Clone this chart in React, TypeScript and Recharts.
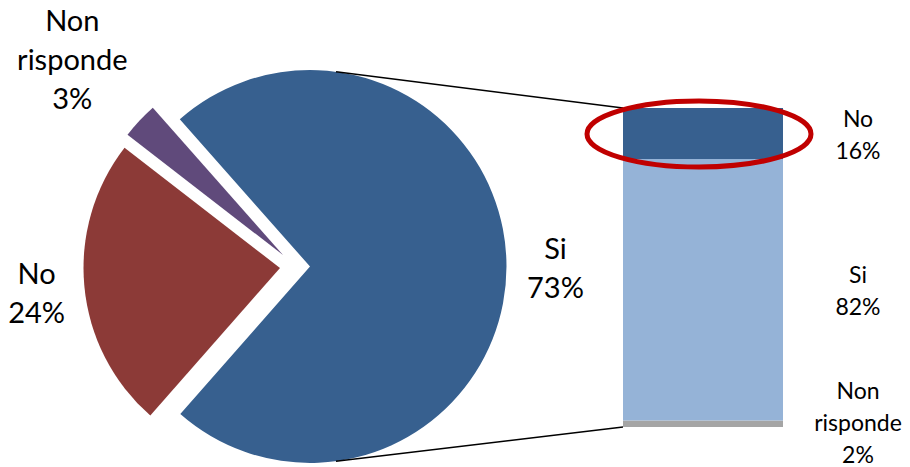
import React from 'react'
import { PieChart, Pie, Cell, BarChart, Bar, XAxis, YAxis, LabelList } from 'recharts'

// main pie
const PIE_NAMES = ['Si', 'No', 'Non risponde']
const PIE_VALUES = [73, 24, 3]
const PIE_COLORS = ['#37608f', '#8c3a37', '#604a7b']

// breakdown of "Si" (stacked bar, bottom to top)
const BAR_NAMES = ['Non risponde', 'Si', 'No']
const BAR_VALUES = [2, 82, 16]
const BAR_COLORS = ['#a5a5a5', '#95b3d7', '#37608f']

const W = 910
const H = 467
const FONT = 'Lato, "Open Sans", sans-serif'

const PIE_CX = 310
const PIE_CY = 266.5
const PIE_R = 196.5
const START_ANGLE = 131.5

// exploded slices, pixel offsets
const EXPLODE: Record<string, [number, number]> = {
  Si: [0, 0],
  No: [-30, 1.5],
  'Non risponde': [-27, -11.5],
}
const LABEL_GAP: Record<string, number> = { Si: 49, No: 48, 'Non risponde': 92 }

const BAR_LEFT = 623
const BAR_RIGHT = 783
const BAR_TOP = 108
const BAR_BOTTOM = 427
const BAR_LH = 32

const pieData = PIE_NAMES.map((name, i) => ({ name, value: PIE_VALUES[i] }))

const barRow: Record<string, string | number> = { name: 'Si' }
BAR_NAMES.forEach((n, i) => {
  barRow[n] = BAR_VALUES[i]
})
const barData = [barRow]

function lines(x: number, y: number, parts: string[], lh: number, size: number) {
  const top = y - ((parts.length - 1) * lh) / 2
  return (
    <text x={x} textAnchor="middle" dominantBaseline="central" fontFamily={FONT} fontSize={size} fill="#000">
      {parts.map((p, i) => (
        <tspan key={i} x={x} y={top + i * lh}>
          {p}
        </tspan>
      ))}
    </text>
  )
}

function splitName(name: string) {
  return name.split(' ')
}

const makePieLabel = (target: string) => (props: any) => {
  const { cx, cy, midAngle, outerRadius, name, value } = props
  if (name !== target) return null
  const d = outerRadius + LABEL_GAP[name]
  const rad = (midAngle * Math.PI) / 180
  const x = cx + d * Math.cos(rad)
  const y = cy - d * Math.sin(rad)
  return lines(x, y, [...splitName(name), `${value}%`], 39, 29)
}

const makeBarLabel = (name: string) => (props: any) => {
  const { x, y, width, height, value } = props
  const parts = [...splitName(name), `${value}%`]
  const cyMax = H - 13 - ((parts.length - 1) * BAR_LH) / 2
  const cy = Math.min(Number(y) + Number(height) / 2, cyMax)
  return lines(Number(x) + Number(width) + 75, cy, parts, BAR_LH, 23)
}

export default function App() {
  const connAngle = Math.acos((336 - PIE_CX) / PIE_R)
  const topStart = { x: PIE_CX + PIE_R * Math.cos(connAngle), y: PIE_CY - PIE_R * Math.sin(connAngle) }
  const botStart = { x: PIE_CX + PIE_R * Math.cos(connAngle), y: PIE_CY + PIE_R * Math.sin(connAngle) }

  return (
    <div style={{ position: 'absolute', left: 0, top: 0, width: W, height: H, background: '#fff' }}>
      <div style={{ position: 'absolute', left: 0, top: 0 }}>
        <PieChart width={W} height={H} margin={{ top: 0, right: 0, bottom: 0, left: 0 }}>
          {PIE_NAMES.map((target, k) => (
            <Pie
              key={target}
              data={pieData}
              dataKey="value"
              nameKey="name"
              cx={PIE_CX + EXPLODE[target][0]}
              cy={PIE_CY + EXPLODE[target][1]}
              outerRadius={PIE_R}
              startAngle={START_ANGLE}
              endAngle={START_ANGLE - 360}
              stroke="none"
              labelLine={false}
              label={makePieLabel(target)}
              isAnimationActive={false}
            >
              {pieData.map((entry, i) => (
                <Cell key={`cell-${i}`} fill={entry.name === target ? PIE_COLORS[k] : 'transparent'} />
              ))}
            </Pie>
          ))}
        </PieChart>
      </div>
      <div style={{ position: 'absolute', left: 0, top: 0 }}>
        <BarChart
          width={W}
          height={H}
          data={barData}
          margin={{ top: BAR_TOP, right: W - BAR_RIGHT, bottom: H - BAR_BOTTOM, left: BAR_LEFT }}
          barCategoryGap={0}
        >
          <XAxis dataKey="name" hide />
          <YAxis domain={[0, 100]} hide />
          {BAR_NAMES.map((n, i) => (
            <Bar key={n} dataKey={n} stackId="a" fill={BAR_COLORS[i]} isAnimationActive={false}>
              <LabelList dataKey={n} content={makeBarLabel(n)} />
            </Bar>
          ))}
        </BarChart>
      </div>
      <svg width={W} height={H} style={{ position: 'absolute', left: 0, top: 0, pointerEvents: 'none' }}>
        <line x1={topStart.x} y1={topStart.y} x2={BAR_LEFT} y2={BAR_TOP} stroke="#000" strokeWidth={1.5} />
        <line x1={botStart.x} y1={botStart.y} x2={BAR_LEFT} y2={BAR_BOTTOM} stroke="#000" strokeWidth={1.5} />
        <ellipse cx={699} cy={134} rx={112} ry={33} fill="none" stroke="#c00000" strokeWidth={5} />
      </svg>
    </div>
  )
}
